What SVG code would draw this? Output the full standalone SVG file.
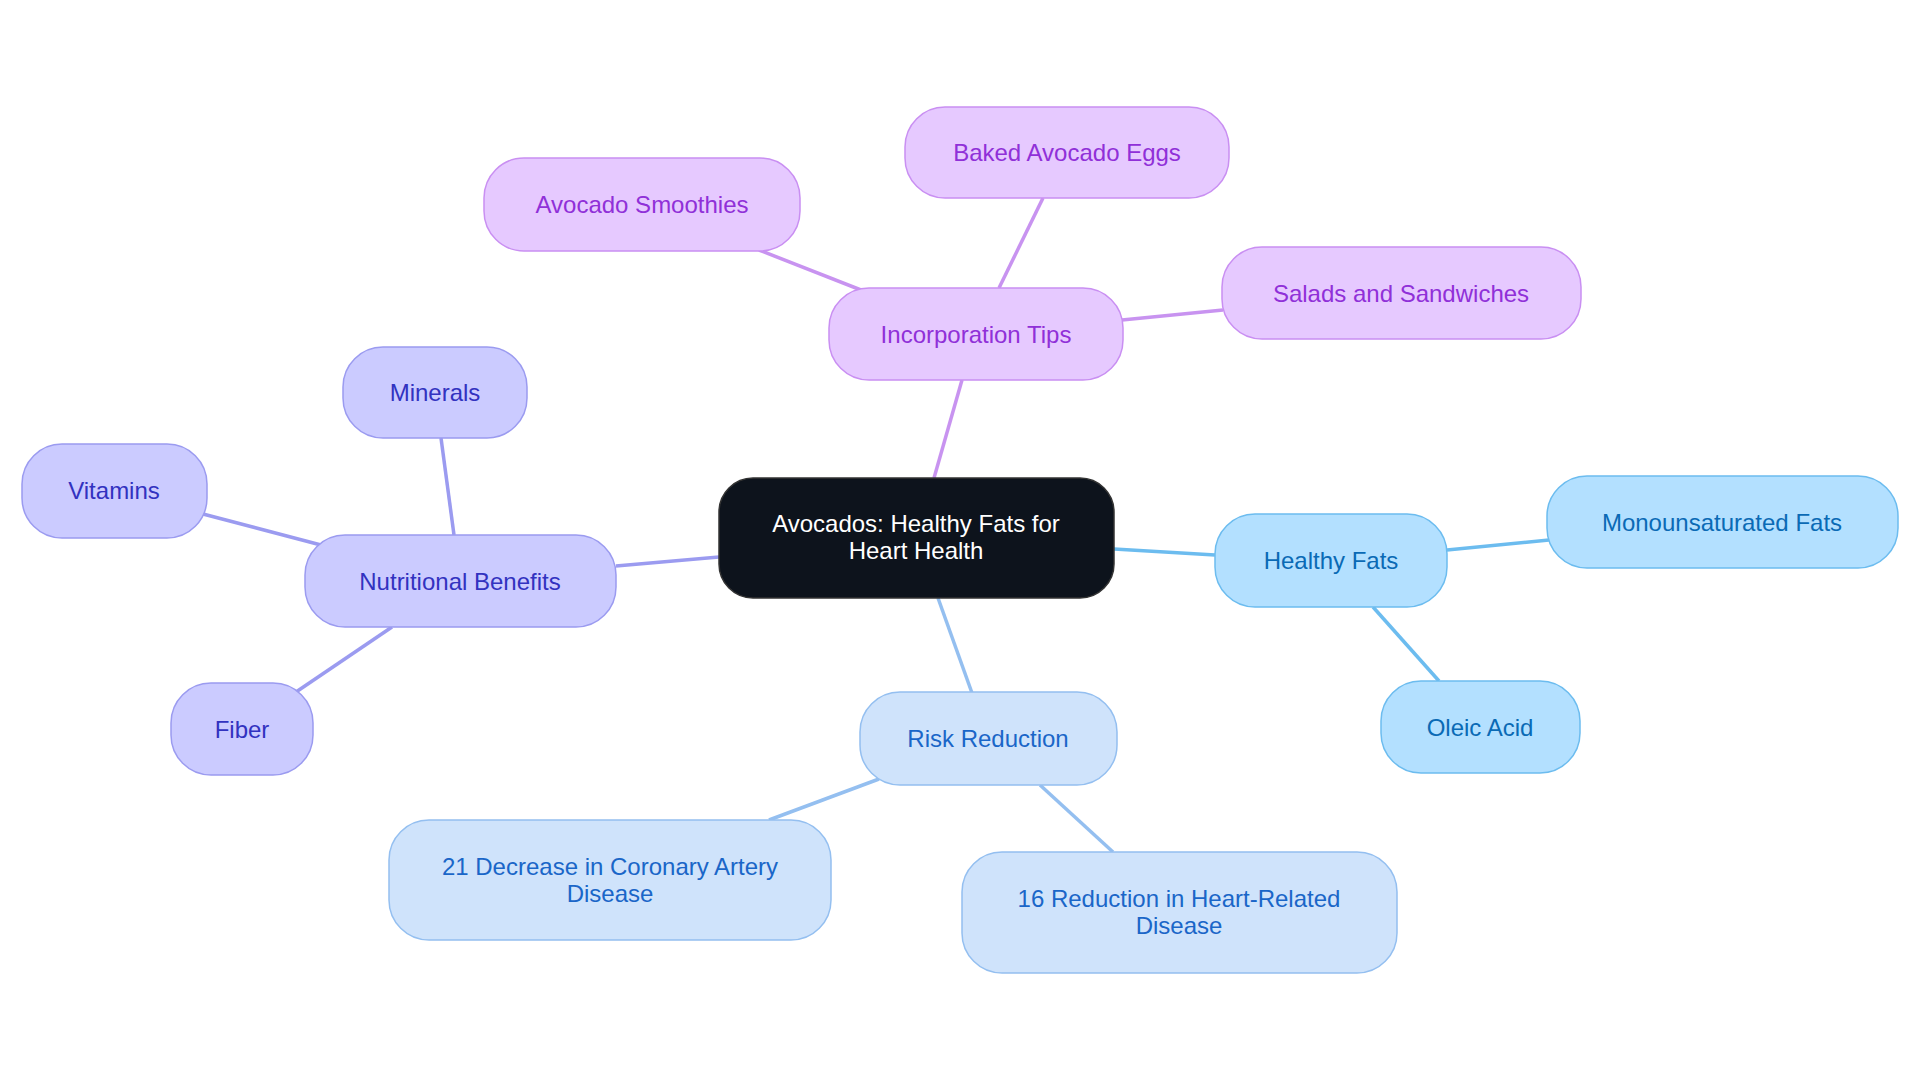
<svg xmlns="http://www.w3.org/2000/svg" width="1920" height="1083" viewBox="0 0 1920 1083">
<style>
text{font-family:"Liberation Sans",Arial,sans-serif;font-size:24px;text-anchor:middle;dominant-baseline:central}
rect{stroke-width:1.5}
.p rect{fill:#e6c9ff;stroke:#c98ff2}.p text{fill:#9030d8}
.v rect{fill:#cbcbff;stroke:#9b9bf0}.v text{fill:#3232c0}
.b rect{fill:#b3e0ff;stroke:#6cbcef}.b text{fill:#0a6ab5}
.r rect{fill:#cfe3fb;stroke:#94bff0}.r text{fill:#1a66c8}
#edges line{stroke-width:3.5}
</style>
<rect width="1920" height="1083" fill="#fff"/>
<g id="edges">
<g stroke="#c893f0"><line x1="934" y1="478" x2="962" y2="380"/><line x1="861" y1="290" x2="759" y2="250"/><line x1="999" y1="288" x2="1043" y2="198"/><line x1="1122" y1="320" x2="1223" y2="310"/></g>
<g stroke="#9b9bf0"><line x1="719" y1="557" x2="616" y2="566"/><line x1="454" y1="535" x2="441" y2="438"/><line x1="321" y1="545" x2="203" y2="514"/><line x1="392" y1="627" x2="296" y2="692"/></g>
<g stroke="#6cbcef"><line x1="1114" y1="549" x2="1215" y2="555"/><line x1="1447" y1="550" x2="1549" y2="540"/><line x1="1373" y1="607" x2="1439" y2="681"/></g>
<g stroke="#94bff0"><line x1="938" y1="598" x2="972" y2="693"/><line x1="879" y1="779" x2="769" y2="820"/><line x1="1040" y1="785" x2="1113" y2="852"/></g>
</g>
<g id="center"><rect x="719" y="478" width="395" height="120" rx="34" fill="#0d131c" stroke="#333"/><text x="916" y="523" fill="#fff">Avocados: Healthy Fats for</text><text x="916" y="550" fill="#fff">Heart Health</text></g>
<g id="incorp" class="p"><rect x="829" y="288" width="294" height="92" rx="40"/><text x="976" y="334">Incorporation Tips</text></g>
<g id="smoothies" class="p"><rect x="484" y="158" width="316" height="93" rx="40"/><text x="642" y="204">Avocado Smoothies</text></g>
<g id="baked" class="p"><rect x="905" y="107" width="324" height="91" rx="40"/><text x="1067" y="152">Baked Avocado Eggs</text></g>
<g id="salads" class="p"><rect x="1222" y="247" width="359" height="92" rx="40"/><text x="1401" y="293">Salads and Sandwiches</text></g>
<g id="nutr" class="v"><rect x="305" y="535" width="311" height="92" rx="40"/><text x="460" y="581">Nutritional Benefits</text></g>
<g id="minerals" class="v"><rect x="343" y="347" width="184" height="91" rx="40"/><text x="435" y="392">Minerals</text></g>
<g id="vitamins" class="v"><rect x="22" y="444" width="185" height="94" rx="40"/><text x="114" y="490">Vitamins</text></g>
<g id="fiber" class="v"><rect x="171" y="683" width="142" height="92" rx="40"/><text x="242" y="729">Fiber</text></g>
<g id="hf" class="b"><rect x="1215" y="514" width="232" height="93" rx="40"/><text x="1331" y="560">Healthy Fats</text></g>
<g id="mono" class="b"><rect x="1547" y="476" width="351" height="92" rx="40"/><text x="1722" y="522">Monounsaturated Fats</text></g>
<g id="oleic" class="b"><rect x="1381" y="681" width="199" height="92" rx="40"/><text x="1480" y="727">Oleic Acid</text></g>
<g id="risk" class="r"><rect x="860" y="692" width="257" height="93" rx="40"/><text x="988" y="738">Risk Reduction</text></g>
<g id="r21" class="r"><rect x="389" y="820" width="442" height="120" rx="40"/><text x="610" y="866">21 Decrease in Coronary Artery</text><text x="610" y="893">Disease</text></g>
<g id="r16" class="r"><rect x="962" y="852" width="435" height="121" rx="40"/><text x="1179" y="898">16 Reduction in Heart-Related</text><text x="1179" y="925">Disease</text></g>
</svg>
